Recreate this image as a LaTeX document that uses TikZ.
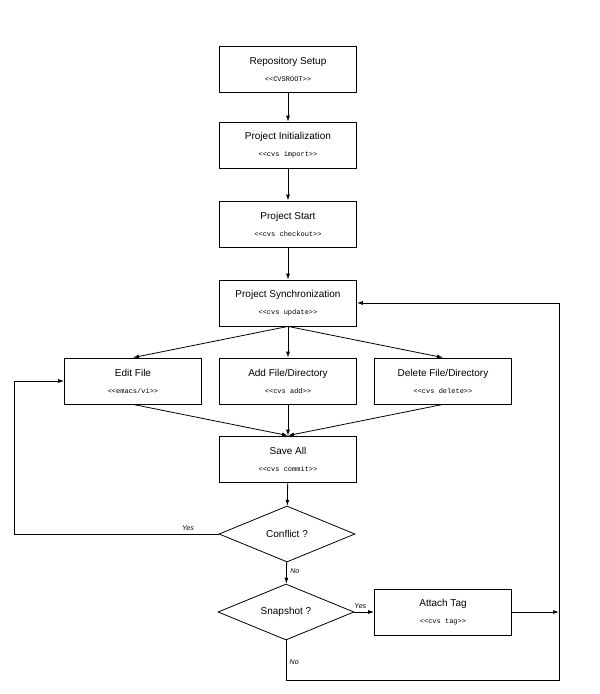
\documentclass[tikz,border=0pt]{standalone}
\usepackage{fontspec}
\setmainfont{Liberation Sans}
\setmonofont{Liberation Mono}
\usetikzlibrary{shapes.geometric,arrows.meta}
\begin{document}
\begin{tikzpicture}[x=1pt,y=-1pt,
  box/.style={draw,thick,minimum width=137pt,minimum height=46pt,align=center,inner sep=0pt,font=\fontsize{10}{12}\selectfont},
  dia/.style={draw,thick,diamond,aspect=2.6,minimum width=136pt,minimum height=56pt,inner sep=0pt,font=\fontsize{10}{12}\selectfont},
  ar/.style={thick,-{Latex[length=6pt,width=4pt]}},
  ln/.style={thick},
  lab/.style={font=\fontsize{7}{8}\itshape\selectfont}]
\useasboundingbox (0,0) rectangle (600,694);
\newcommand{\cmd}[1]{\\[5pt]{\ttfamily\fontsize{7}{8}\selectfont #1}}
\node[box] (rs) at (288,69) {Repository Setup\cmd{<<CVSROOT>>}};
\node[box] (pi) at (288,145) {Project Initialization\cmd{<<cvs import>>}};
\node[box] (ps) at (288,224) {Project Start\cmd{<<cvs checkout>>}};
\node[box] (sy) at (288,303) {Project Synchronization\cmd{<<cvs update>>}};
\node[box] (ed) at (133,381) {Edit File\cmd{<<emacs/vi>>}};
\node[box] (ad) at (288,381) {Add File/Directory\cmd{<<cvs add>>}};
\node[box] (de) at (443,381) {Delete File/Directory\cmd{<<cvs delete>>}};
\node[box] (sa) at (288,459) {Save All\cmd{<<cvs commit>>}};
\node[dia] (cf) at (287,534) {Conflict ?};
\node[dia] (sn) at (286,612) {Snapshot ?};
\node[box] (at) at (443,612) {Attach Tag\cmd{<<cvs tag>>}};
\coordinate (r1) at (559,612);
\coordinate (r2) at (559,303);
\coordinate (b1) at (286,680);
\coordinate (b2) at (559,680);
\coordinate (l1) at (14,534);
\coordinate (l2) at (14,381);
\draw[ar] (rs) -- (pi);
\draw[ar] (pi) -- (ps);
\draw[ar] (ps) -- (sy);
\draw[ar] (sy.south) -- (ed.north);
\draw[ar] (sy) -- (ad);
\draw[ar] (sy.south) -- (de.north);
\draw[ar] (ed.south) -- (sa.north);
\draw[ar] (ad) -- (sa);
\draw[ar] (de.south) -- (sa.north);
\draw[ar] (sa) -- (cf);
\draw[ar] (cf) -- node[lab,right,pos=0.4]{No} (sn);
\draw[ar] (sn) -- node[lab,above,pos=0.3]{Yes} (at);
\draw[ar] (at) -- (r1);
\draw[ar] (r1) -- (r2) -- (sy);
\draw[ln] (sn.south) -- node[lab,right,pos=0.55]{No} (b1) -- (b2) -- (r1);
\draw[ln] (cf.west) -- node[lab,above,pos=0.15]{Yes} (l1);
\draw[ar] (l1) -- (l2) -- (ed);
\end{tikzpicture}
\end{document}
